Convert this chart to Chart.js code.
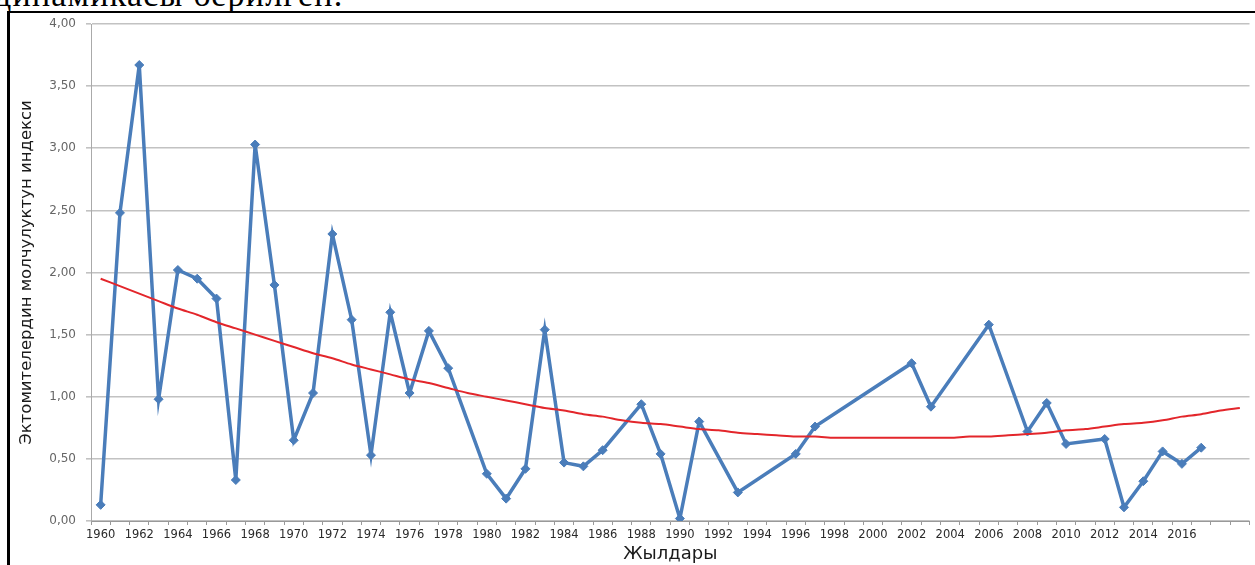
<!DOCTYPE html>
<html><head><meta charset="utf-8">
<script src="https://cdn.jsdelivr.net/npm/chart.js@4"></script>
<style>
html,body{margin:0;padding:0;background:#fff;width:1255px;height:565px;overflow:hidden;}
#cap{position:absolute;left:-6px;top:-22px;font:34px/34px "Liberation Serif",serif;letter-spacing:1.2px;color:#000;white-space:nowrap;}
#frame{position:absolute;left:7px;top:11px;width:1260px;height:600px;border-left:3px solid #000;border-top:2px solid #000;}
#wrap{position:absolute;left:0;top:0;width:1255px;height:565px;}
</style></head><body>
<div id="cap">динамикасы берилген.</div>
<div id="frame"></div>
<div id="wrap"><canvas id="c" width="1255" height="565"></canvas></div>
<script>
const years = ['1960','1961','1962','1963','1964','1965','1966','1967','1968','1969',
  '1970','1971','1972','1973','1974','1975','1976','1977','1978','1979',
  '1980','1981','1982','1983','1984','1985','1986','1987','1988','1989',
  '1990','1991','1992','1993','1994','1995','1996','1997','1998','1999',
  '2000','2001','2002','2003','2004','2005','2006','2007','2008','2009',
  '2010','2011','2012','2013','2014','2015','2016','2017','2018','2019'];

const tickLabels = ['1960','','1962','','1964','','1966','','1968','',
  '1970','','1972','','1974','','1976','','1978','',
  '1980','','1982','','1984','','1986','','1988','',
  '1990','','1992','','1994','','1996','','1998','',
  '2000','','2002','','2004','','2006','','2008','',
  '2010','','2012','','2014','','2016','','',''];

const indexValues = [0.13,2.48,3.67,0.98,2.02,1.95,1.79,0.33,3.03,1.90,
  0.65,1.03,2.31,1.62,0.53,1.68,1.03,1.53,1.23,null,
  0.38,0.18,0.42,1.54,0.47,0.44,0.57,null,0.94,0.54,
  0.02,0.80,null,0.23,null,null,0.54,0.76,null,null,
  null,null,1.27,0.92,null,null,1.58,null,0.72,0.95,
  0.62,null,0.66,0.11,0.32,0.56,0.46,0.59,null,null];

const trendValues = [1.95,1.89,1.83,1.77,1.71,1.66,1.60,1.55,1.50,1.45,
  1.40,1.35,1.31,1.26,1.22,1.18,1.14,1.11,1.07,1.03,
  1.00,0.97,0.94,0.91,0.89,0.86,0.84,0.81,0.79,0.78,
  0.76,0.74,0.73,0.71,0.70,0.69,0.68,0.68,0.67,0.67,
  0.67,0.67,0.67,0.67,0.67,0.68,0.68,0.69,0.70,0.71,
  0.73,0.74,0.76,0.78,0.79,0.81,0.84,0.86,0.89,0.91];

const yTitle = 'Эктомителердин молчулуктун индекси';
const xTitle = 'Жылдары';

new Chart(document.getElementById('c').getContext('2d'), {
  type: 'line',
  data: {
    labels: years,
    datasets: [
      {label: 'Тренд', data: trendValues, borderColor: '#e3262b', borderWidth: 2,
       pointRadius: 0, tension: 0.3, fill: false},
      {label: 'Индекс', data: indexValues, borderColor: '#4a7dba', backgroundColor: '#4a7dba',
       borderWidth: 3.5, pointStyle: 'rectRot', pointRadius: 4.5, pointBorderWidth: 1,
       spanGaps: true, tension: 0, fill: false}
    ]
  },
  options: {
    responsive: false,
    animation: false,
    layout: {padding: {left: 12, top: 24, right: 3, bottom: 0}},
    plugins: {legend: {display: false}, tooltip: {enabled: false}},
    scales: {
      x: {
        offset: true,
        grid: {offset: true, drawOnChartArea: false, tickLength: 4, color: '#999'},
        border: {color: '#999'},
        ticks: {autoSkip: false, maxRotation: 0, minRotation: 0, padding: 3, color: '#2a2a2a',
                font: {family: 'DejaVu Sans', size: 11.5},
                callback: (v, i) => tickLabels[i]},
        title: {display: true, text: xTitle, color: '#1a1a1a',
                font: {family: 'DejaVu Sans', size: 18}, padding: {top: 0, bottom: 0}},
        afterFit: s => { s.height = 44; }
      },
      y: {
        min: 0, max: 4,
        ticks: {stepSize: 0.5, padding: 10, color: '#666',
                font: {family: 'DejaVu Sans', size: 12},
                callback: v => Number(v).toFixed(2).replace('.', ',')},
        grid: {color: '#c2c2c2', lineWidth: 1.6, tickLength: 5},
        border: {color: '#aaa'},
        title: {display: true, text: yTitle, color: '#1a1a1a',
                font: {family: 'DejaVu Sans', size: 16.5}, padding: {top: 5, bottom: 0}},
        afterFit: s => { s.width = 79; }
      }
    }
  }
});
</script>
</body></html>
